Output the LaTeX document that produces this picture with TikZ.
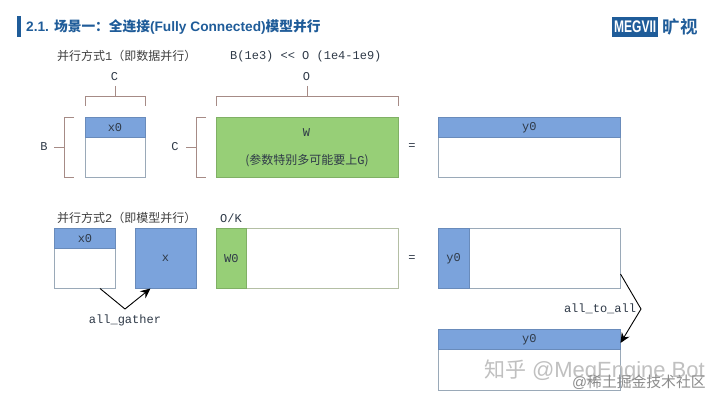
\documentclass[tikz,border=0pt]{standalone}
\usepackage{fontspec}
\setmainfont{Liberation Sans}
\setmonofont{Liberation Mono}
\newfontfamily\cjk{Noto Sans CJK SC}
\newfontfamily\cjkb{Noto Sans CJK SC Bold}
\definecolor{titleblue}{HTML}{1F5C99}
\definecolor{fillblue}{HTML}{7BA3DC}
\definecolor{fillgreen}{HTML}{97CF77}
\definecolor{edgeblue}{HTML}{9AA9B8}
\definecolor{edgegreen}{HTML}{B4BFA4}
\definecolor{bracketc}{HTML}{A68B86}
\definecolor{inktext}{HTML}{2F3A48}
\definecolor{wm}{HTML}{C0C0C0}
\usetikzlibrary{arrows.meta}
\tikzset{
  px/.style={x=1pt,y=-1pt},
  cell/.style={anchor=north west,inner sep=0pt,outer sep=0pt,draw=edgeblue,line width=0.9pt,fill=white},
  part/.style={anchor=north west,inner sep=0pt,outer sep=0pt,line width=0.7pt,text=inktext,font=\ttfamily\fontsize{12}{14}\selectfont},
  bluepart/.style={part,fill=fillblue,draw=fillblue!85!black},
  greenpart/.style={part,fill=fillgreen,draw=fillgreen!85!black},
  mono/.style={inner sep=0pt,text=inktext,font=\ttfamily\fontsize{12}{14}\selectfont},
  head/.style={inner sep=0pt,anchor=west,text=black!75,font=\fontsize{12}{14}\selectfont},
  bracket/.style={draw=bracketc,line width=0.9pt},
  flow/.style={draw=black,line width=0.9pt,-{Stealth[length=10pt,width=9pt]}},
}
\begin{document}
\begin{tikzpicture}[px]
\useasboundingbox (0,0) rectangle (720,403);
\fill[white] (0,0) rectangle (720,403);
% title
\fill[titleblue] (17,16.5) rectangle (21,37);
\node[anchor=west,inner sep=0pt,text=titleblue,font=\bfseries\fontsize{13.7}{16}\selectfont] (title) at (26,27)
  {2.1. {\cjkb 场景一：全连接}(Fully Connected){\cjkb 模型并行}};
\node[anchor=west,inner sep=0pt,minimum width=46pt,minimum height=20pt,fill=titleblue,text=white,font=\bfseries\fontsize{14}{16}\selectfont,align=center] (logoa) at (612,27)
  {\scalebox{0.86}[1.2]{MEGVII}};
\node[anchor=west,inner sep=0pt,text=titleblue,font=\cjkb\fontsize{17.5}{18}\selectfont] (logob) at (662.5,27) {旷视};
% row labels
\node[head] (m1) at (57,56) {\cjk 并行方式{\ttfamily 1}（即数据并行）};
\node[mono,anchor=west] (note) at (230,56) {B(1e3) << O (1e4-1e9)};
\node[head] (m2) at (57,218) {\cjk 并行方式{\ttfamily 2}（即模型并行）};
\node[mono] (ok) at (231,218) {O/K};
% row 1
\node[cell,minimum width=60pt,minimum height=60pt] (a) at (85,117) {};
\node[bluepart,minimum width=60pt,minimum height=20.5pt] (a0) at (85,117) {x0};
\node[greenpart,minimum width=182.5pt,minimum height=60pt] (w) at (216,117) {};
\node[mono] (wlab) at (306.5,133) {W};
\node[mono,font=\cjk\fontsize{12}{14}\selectfont] (wnote) at (307,161) {({\cjk 参数特别多可能要上}{\ttfamily G})};
\node[mono] (eq1) at (412,147) {=};
\node[cell,minimum width=182.5pt,minimum height=60pt] (y) at (438,117) {};
\node[bluepart,minimum width=182.5pt,minimum height=20.5pt] (y0) at (438,117) {y0};
% brackets row 1
\node[mono] (clab) at (114.5,77) {C};
\node[mono] (olab) at (306.5,77) {O};
\node[mono] (blab) at (44,147) {B};
\node[mono] (clab2) at (175,147) {C};
\coordinate (ctop) at (115,86);
\coordinate (cmid) at (115,96);
\draw[bracket] (85,106) -- (85,96) -- (145,96) -- (145,106);
\draw[bracket] (ctop) -- (cmid);
\coordinate (otop) at (307,86);
\coordinate (omid) at (307,96);
\draw[bracket] (216,106) -- (216,96) -- (398.5,96) -- (398.5,106);
\draw[bracket] (otop) -- (omid);
\coordinate (bl) at (54,147);
\coordinate (bm) at (64,147);
\draw[bracket] (74,117) -- (64,117) -- (64,177) -- (74,177);
\draw[bracket] (bl) -- (bm);
\coordinate (cl) at (186,147);
\coordinate (cm) at (196,147);
\draw[bracket] (206,117) -- (196,117) -- (196,177) -- (206,177);
\draw[bracket] (cl) -- (cm);
% row 2
\node[cell,minimum width=61pt,minimum height=60.5pt] (p) at (54.5,228) {};
\node[bluepart,minimum width=61pt,minimum height=20.5pt] (p0) at (54.5,228) {x0};
\node[bluepart,minimum width=61pt,minimum height=60.5pt] (q) at (135,228) {x};
\node[cell,draw=edgegreen,minimum width=182.5pt,minimum height=60.5pt] (v) at (216,228) {};
\node[greenpart,minimum width=30.5pt,minimum height=60.5pt] (v0) at (216,228) {W0};
\node[mono] (eq2) at (412,259) {=};
\node[cell,minimum width=182.5pt,minimum height=60.5pt] (r) at (438,228) {};
\node[bluepart,minimum width=31pt,minimum height=60.5pt] (r0) at (438,228) {y0};
\node[cell,minimum width=182.5pt,minimum height=61pt] (s) at (438,329) {};
\node[bluepart,minimum width=182.5pt,minimum height=20.5pt] (s0) at (438,329) {y0};
% flows
\coordinate (gm) at (125,309);
\draw[flow] ([xshift=15pt]p.south) -- (gm) -- ([xshift=-15pt]q.south);
\node[mono] (gl) at (125,320) {all\_gather};
\coordinate (tm) at (641,309);
\draw[flow] (r.east |- 0,274) -- (tm) -- (s0.east |- 0,343);
\node[mono] (tl) at (600,309) {all\_to\_all};
% watermarks
\node[anchor=west,inner sep=0pt,text=wm,font=\fontsize{21}{24}\selectfont] (wm1) at (484,371) {{\cjk 知乎} {\fontsize{22}{24}\selectfont @MegEngine Bot}};
\node[anchor=west,inner sep=0pt,text=black!45,font=\fontsize{14.8}{17}\selectfont] (wm2) at (572,382) {@{\cjk 稀土掘金技术社区}};
\end{tikzpicture}
\end{document}
